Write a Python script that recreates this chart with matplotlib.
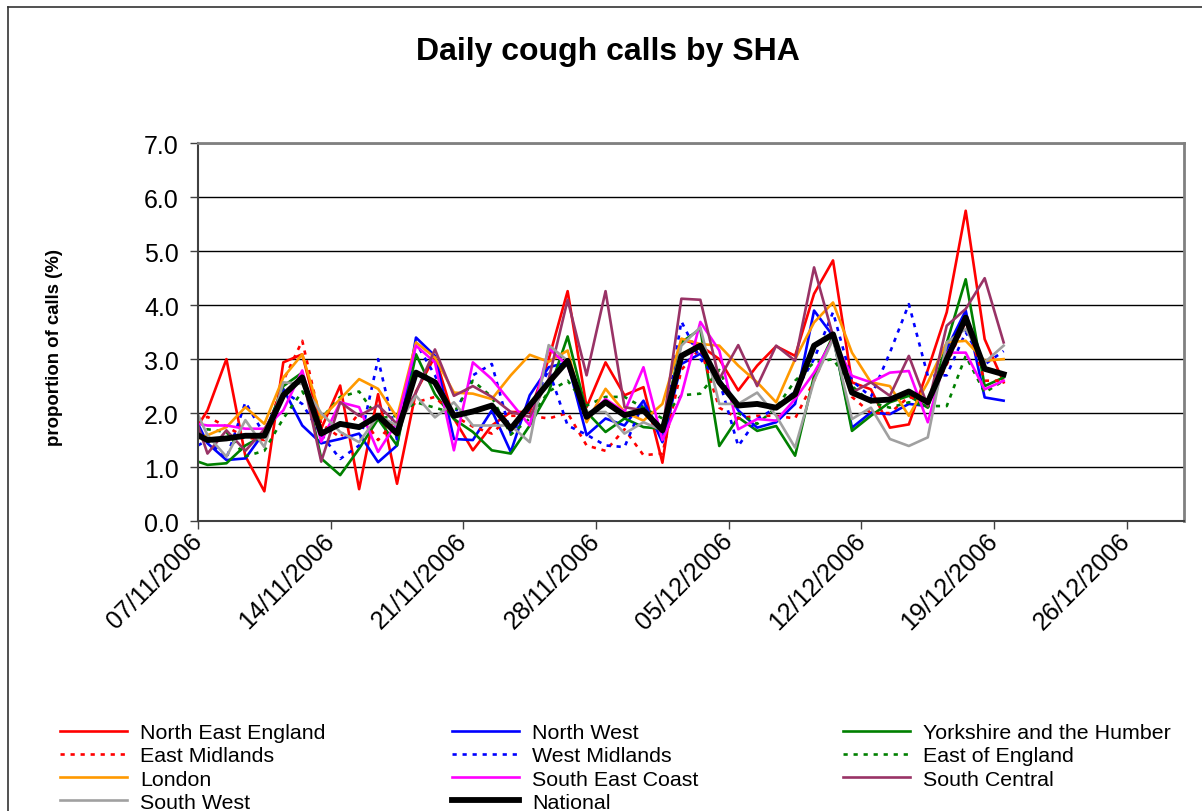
import datetime as dt
import matplotlib
matplotlib.use("Agg")
import matplotlib.pyplot as plt
import matplotlib.dates as mdates
from matplotlib.lines import Line2D
from matplotlib.ticker import FormatStrFormatter

plt.rcParams['font.family'] = ['Liberation Sans', 'DejaVu Sans']

# ---- data ----
start = dt.datetime(2006, 11, 7)
# first reading sits on the 7th itself, the others at midday
day_offsets = [0.0] + [k + 0.5 for k in range(43)]
dates = [start + dt.timedelta(days=d) for d in day_offsets]
tick_dates = [start + dt.timedelta(days=7 * k) for k in range(8)]

ne_england = [1.77, 2.05, 3.00, 1.20, 0.55, 2.94, 3.09, 1.71, 2.51, 0.59, 2.35, 0.69, 2.40, 3.05, 1.90, 1.31,
              1.77, 2.02, 2.02, 3.00, 4.26, 2.11, 2.94, 2.33, 2.48, 1.08, 3.37, 3.25, 3.00, 2.42, 2.88, 3.24,
              3.06, 4.21, 4.83, 2.57, 2.44, 1.73, 1.79, 2.80, 3.87, 5.75, 3.37, 2.57]
north_west = [1.80, 1.44, 1.13, 1.16, 1.65, 2.45, 1.77, 1.44, 1.52, 1.62, 1.09, 1.40, 3.40, 3.06, 1.52, 1.50,
              2.05, 1.28, 2.33, 2.85, 2.94, 1.59, 1.90, 1.77, 2.23, 1.46, 2.91, 3.10, 2.63, 2.05, 1.73, 1.83,
              2.17, 3.90, 3.43, 1.73, 2.01, 1.98, 2.17, 2.13, 3.19, 3.90, 2.29, 2.23]
yorkshire = [1.10, 1.04, 1.07, 1.40, 1.59, 2.50, 2.75, 1.16, 0.85, 1.34, 1.89, 1.40, 3.09, 2.35, 1.89, 1.65,
             1.31, 1.25, 1.77, 2.39, 3.42, 2.02, 1.65, 1.90, 1.74, 1.71, 3.31, 3.56, 1.39, 1.92, 1.67, 1.76,
             1.21, 2.69, 3.43, 1.67, 1.95, 2.20, 2.32, 2.10, 3.30, 4.48, 2.50, 2.66]
east_midlands = [1.80, 1.93, 1.75, 1.55, 1.50, 2.60, 3.34, 1.80, 1.55, 2.00, 1.50, 1.90, 2.20, 2.30, 1.95, 1.75,
                 1.62, 1.95, 1.95, 1.90, 2.00, 1.40, 1.30, 1.70, 1.22, 1.25, 2.80, 3.20, 2.10, 1.90, 1.95, 1.95,
                 1.90, 2.60, 3.40, 2.30, 2.00, 2.00, 2.30, 2.20, 2.90, 3.70, 2.60, 2.60]
west_midlands = [1.40, 1.50, 1.16, 2.20, 1.60, 2.40, 2.17, 1.60, 1.15, 1.40, 3.00, 1.50, 3.30, 2.70, 1.95, 2.70,
                 2.91, 1.62, 2.08, 2.80, 1.77, 1.60, 1.40, 1.37, 2.20, 1.60, 3.70, 3.00, 2.60, 1.39, 1.89, 2.10,
                 2.40, 3.00, 3.87, 2.60, 2.30, 3.12, 4.02, 2.69, 2.70, 3.50, 2.90, 3.15]
east_of_england = [1.60, 1.70, 1.65, 1.20, 1.30, 1.90, 2.40, 1.90, 2.30, 2.40, 1.90, 1.95, 2.20, 2.10, 2.00, 2.60,
                   2.30, 1.60, 1.90, 2.40, 2.60, 2.14, 2.30, 2.30, 2.10, 1.90, 2.33, 2.36, 2.80, 2.00, 1.80, 2.10,
                   2.60, 2.94, 3.00, 2.50, 2.20, 2.10, 2.20, 2.13, 2.13, 3.06, 2.38, 2.60]
london = [1.53, 1.59, 1.74, 2.11, 1.80, 2.66, 3.09, 1.90, 2.26, 2.63, 2.45, 1.92, 3.31, 3.03, 2.38, 2.36,
          2.26, 2.70, 3.08, 2.95, 3.16, 1.83, 2.45, 2.02, 1.86, 2.17, 3.38, 3.28, 3.25, 2.88, 2.57, 2.20,
          3.00, 3.68, 4.05, 3.12, 2.57, 2.50, 1.95, 2.57, 3.31, 3.34, 2.97, 3.00]
se_coast = [1.80, 1.77, 1.77, 1.71, 1.71, 2.05, 2.79, 1.47, 2.20, 2.11, 1.28, 1.83, 3.25, 2.94, 1.31, 2.94,
            2.63, 2.20, 1.77, 3.20, 2.88, 1.93, 2.26, 2.02, 2.85, 1.50, 2.33, 3.69, 3.16, 1.70, 1.89, 1.86,
            2.26, 2.75, 3.37, 2.69, 2.57, 2.75, 2.78, 1.83, 3.12, 3.12, 2.44, 2.60]
south_central = [1.77, 1.25, 1.68, 1.30, 1.70, 2.29, 2.69, 1.10, 2.20, 1.95, 2.14, 1.80, 2.38, 3.18, 2.32, 2.50,
                 2.30, 2.02, 1.93, 2.63, 4.10, 2.70, 4.26, 2.11, 2.05, 1.68, 4.12, 4.10, 2.63, 3.26, 2.50, 3.25,
                 2.97, 4.70, 3.43, 2.38, 2.57, 2.32, 3.06, 2.13, 3.62, 3.93, 4.50, 3.31]
south_west = [1.97, 1.59, 1.19, 1.87, 1.37, 2.57, 2.54, 2.00, 1.65, 1.46, 1.95, 1.77, 2.32, 1.92, 2.20, 1.77,
              1.77, 1.77, 1.46, 3.26, 2.97, 2.02, 2.02, 1.62, 1.83, 1.68, 3.25, 3.59, 2.17, 2.17, 2.38, 1.95,
              1.36, 2.60, 3.37, 1.89, 2.10, 1.52, 1.39, 1.55, 3.31, 3.56, 2.94, 3.25]
national = [1.59, 1.50, 1.53, 1.58, 1.58, 2.33, 2.66, 1.62, 1.80, 1.74, 1.95, 1.62, 2.75, 2.57, 1.95, 2.03,
            2.14, 1.71, 2.14, 2.57, 2.97, 1.93, 2.20, 1.96, 2.05, 1.68, 3.06, 3.25, 2.57, 2.14, 2.17, 2.10,
            2.35, 3.25, 3.46, 2.38, 2.23, 2.25, 2.40, 2.20, 3.00, 3.77, 2.82, 2.72]

dot = (0, (1.6, 2.2))
series = [
    ("North East England", ne_england, "#FF0000", "-"),
    ("North West", north_west, "#0000FF", "-"),
    ("Yorkshire and the Humber", yorkshire, "#008000", "-"),
    ("East Midlands", east_midlands, "#FF0000", dot),
    ("West Midlands", west_midlands, "#0000FF", dot),
    ("East of England", east_of_england, "#008000", dot),
    ("London", london, "#FF9900", "-"),
    ("South East Coast", se_coast, "#FF00FF", "-"),
    ("South Central", south_central, "#993366", "-"),
    ("South West", south_west, "#A0A0A0", "-"),
]

W, H = 1202, 812
fig = plt.figure(figsize=(W / 100, H / 100), dpi=100)
ax = fig.add_axes([198 / W, 1 - 522 / H, (1183.7 - 198) / W, (522 - 144.3) / H])

lines = {}
for name, vals, col, ls in series:
    lines[name], = ax.plot(dates, vals, color=col, ls=ls, lw=1.9)
lines["National"], = ax.plot(dates, national, color="black", lw=4.2)

ax.set_ylim(0, 7)
ax.set_yticks(range(8))
ax.yaxis.set_major_formatter(FormatStrFormatter('%.1f'))
ax.set_xlim(start, start + dt.timedelta(days=52))
ax.set_xticks(tick_dates)
ax.xaxis.set_major_formatter(mdates.DateFormatter('%d/%m/%Y'))
ax.yaxis.grid(True, color="black", lw=1.0)
ax.set_axisbelow(True)

for s in ("top", "right"):
    ax.spines[s].set_color("#808080")
    ax.spines[s].set_linewidth(2)
for s in ("left", "bottom"):
    ax.spines[s].set_color("#404040")
    ax.spines[s].set_linewidth(1.5)

ax.tick_params(direction="out", length=5.8, width=1, color="#404040", labelsize=18)
ax.tick_params(axis="y", pad=8)
ax.tick_params(axis="x", pad=5.5)
for lab in ax.get_xticklabels():
    lab.set_rotation(45)
    lab.set_ha("right")
    lab.set_va("center")
    lab.set_rotation_mode("anchor")

fig.text(608 / W, 1 - 52 / H, "Daily cough calls by SHA", ha="center", va="center",
         fontsize=23, weight="bold")
fig.text(55 / W, 1 - 348 / H, "proportion of calls (%)", ha="center", va="center",
         rotation=90, fontsize=13.4, weight="bold")

# chart frame (only the left and top edges fall inside the picture)
fig.add_artist(Line2D([8 / W, 8 / W], [0, 1 - 8 / H], transform=fig.transFigure, color="#333333", lw=1.2))
fig.add_artist(Line2D([8 / W, 1], [1 - 8 / H, 1 - 8 / H], transform=fig.transFigure, color="#333333", lw=1.2))

columns = [
    (60, ["North East England", "East Midlands", "London", "South West"]),
    (452, ["North West", "West Midlands", "South East Coast", "National"]),
    (843, ["Yorkshire and the Humber", "East of England", "South Central"]),
]
for xpos, names in columns:
    fig.legend([lines[n] for n in names], names, loc="upper left",
               bbox_to_anchor=(xpos / W, 1 - 724 / H), bbox_transform=fig.transFigure,
               frameon=False, borderpad=0, borderaxespad=0, handlelength=3.13,
               handletextpad=0.6, labelspacing=0.2, fontsize=15.4)

fig.savefig("out.png", dpi=100)
